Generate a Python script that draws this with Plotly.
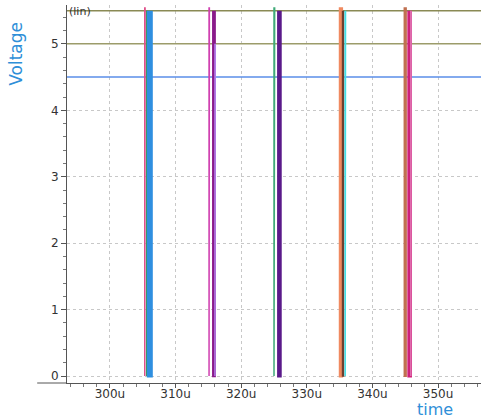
import plotly.graph_objects as go

# time axis in microseconds
t_start, t_end = 293.45, 356.55

# steady high levels of three signals (V)
level_values = [5.5, 5.0, 4.5]
level_colors = ["#8a8a55", "#9c9c6a", "#5a8ee8"]

# pulse edges: each edge drops from its top level to 0 and returns
edge_t0 = [305.3, 305.6, 305.85, 315.1, 315.75, 316.0, 325.0, 325.7, 335.1, 335.45, 335.85, 344.9, 345.55, 345.85]
edge_t1 = [305.35, 305.7, 306.3, 315.15, 315.95, 316.05, 325.1, 325.95, 335.3, 335.6, 335.9, 345.1, 345.8, 345.9]
edge_top = [5.55, 5.5, 5.5, 5.55, 5.5, 5.0, 5.55, 5.5, 5.55, 5.5, 5.5, 5.55, 5.5, 5.5]
edge_colors = ["#e0508a", "#3c9a5c", "#2f8fe0", "#d040b0", "#8a1a8a", "#b07ce8",
               "#3faa78", "#5a1a8a", "#f08a60", "#6e4030", "#40e0e8", "#c07050", "#d0207a", "#e070b0"]
edge_widths = [1.5, 1.5, 3.0, 1.5, 2.5, 1.5, 1.5, 3, 3, 1.5, 1.5, 2, 3, 1.5]

x_tick_vals = [300, 310, 320, 330, 340, 350]
x_tick_text = ["300u", "310u", "320u", "330u", "340u", "350u"]
y_tick_vals = [0, 1, 2, 3, 4, 5]

fig = go.Figure()
for v, c in zip(level_values, level_colors):
    fig.add_trace(go.Scatter(x=[t_start, t_end], y=[v, v], mode="lines",
                             line=dict(color=c, width=1.5), showlegend=False))
for a, b, top, c, w in zip(edge_t0, edge_t1, edge_top, edge_colors, edge_widths):
    fig.add_trace(go.Scatter(x=[a, a, b, b], y=[top, 0, 0, top], mode="lines",
                             line=dict(color=c, width=w), showlegend=False))

fig.update_layout(
    width=481, height=420,
    margin=dict(l=67, r=0, t=5, b=37, autoexpand=False),
    plot_bgcolor="white", paper_bgcolor="white",
    font=dict(family="DejaVu Sans", size=12, color="#333333"),
    xaxis=dict(range=[t_start, t_end], tickvals=x_tick_vals, ticktext=x_tick_text,
               showgrid=True, gridcolor="#c8c8c8", griddash="dot", gridwidth=1,
               showline=True, linecolor="#555555", ticks="outside", ticklen=4,
               tickcolor="#555555", zeroline=False, automargin=False, ticklabelstandoff=-4,
               minor=dict(dtick=2, ticks="outside", ticklen=3, tickcolor="#777777", showgrid=False),
               tickfont=dict(size=12)),
    yaxis=dict(range=[-0.105, 5.585], tickvals=y_tick_vals,
               showgrid=True, gridcolor="#c8c8c8", griddash="dot", gridwidth=1,
               showline=True, linecolor="#555555", ticks="outside", ticklen=5,
               tickcolor="#555555", zeroline=False, automargin=False,
               minor=dict(dtick=0.2, ticks="outside", ticklen=3, tickcolor="#777777", showgrid=False),
               tickfont=dict(size=12)),
    annotations=[
        dict(text="Voltage", x=-0.124, y=0.87, xref="paper", yref="paper", showarrow=False,
             textangle=-90, font=dict(size=17, color="#2f8fd8"), xanchor="center", yanchor="middle"),
        dict(text="(lin)", x=0.0, y=1.005, xref="paper", yref="paper", showarrow=False,
             font=dict(size=11, color="#333333"), xanchor="left", yanchor="top"),
        dict(text="time", x=0.889, y=-0.0714, xref="paper", yref="paper", showarrow=False,
             font=dict(size=16, color="#2f8fd8"), xanchor="center", yanchor="middle"),
    ],
    shapes=[dict(type="line", xref="paper", yref="paper", x0=-0.072, x1=0, y0=0, y1=0,
                 line=dict(color="#555555", width=1))],
)
fig.write_html("out.html", config={"displayModeBar": False},
               post_script="document.body.style.margin='0';document.body.style.padding='0';")
